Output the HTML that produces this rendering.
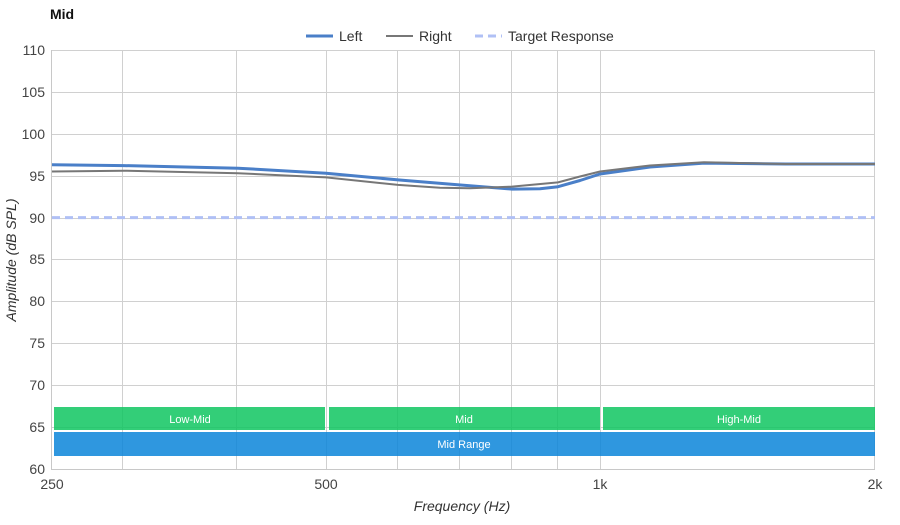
<!DOCTYPE html>
<html><head><style>
body{margin:0;background:#fff;font-family:"Liberation Sans",sans-serif;}
</style></head><body>
<svg width="900" height="520" xmlns="http://www.w3.org/2000/svg" font-family="Liberation Sans, sans-serif">
<rect width="900" height="520" fill="#fff"/>
<text x="50" y="19" font-size="14" font-weight="bold" fill="#111">Mid</text>
<!-- legend -->
<line x1="306" y1="36" x2="333" y2="36" stroke="#4a7fc8" stroke-width="3"/>
<text x="339" y="41" font-size="14" fill="#333">Left</text>
<line x1="386" y1="36" x2="413" y2="36" stroke="#777" stroke-width="2"/>
<text x="419" y="41" font-size="14" fill="#333">Right</text>
<line x1="475" y1="36" x2="502" y2="36" stroke="#b0c0f5" stroke-width="3" stroke-dasharray="8,5"/>
<text x="508" y="41" font-size="14" fill="#333">Target Response</text>
<!-- grid -->
<g stroke="#d0d0d0" stroke-width="1">
<line x1="52" y1="50.5" x2="875" y2="50.5"/><line x1="52" y1="92.5" x2="875" y2="92.5"/>
<line x1="52" y1="134.5" x2="875" y2="134.5"/><line x1="52" y1="176.5" x2="875" y2="176.5"/>
<line x1="52" y1="218.5" x2="875" y2="218.5"/><line x1="52" y1="259.5" x2="875" y2="259.5"/>
<line x1="52" y1="301.5" x2="875" y2="301.5"/><line x1="52" y1="343.5" x2="875" y2="343.5"/>
<line x1="52" y1="385.5" x2="875" y2="385.5"/><line x1="52" y1="427.5" x2="875" y2="427.5"/>
<line x1="122.5" y1="50" x2="122.5" y2="469"/><line x1="236.5" y1="50" x2="236.5" y2="469"/>
<line x1="326.5" y1="50" x2="326.5" y2="469"/><line x1="397.5" y1="50" x2="397.5" y2="469"/>
<line x1="459.5" y1="50" x2="459.5" y2="469"/><line x1="511.5" y1="50" x2="511.5" y2="469"/>
<line x1="557.5" y1="50" x2="557.5" y2="469"/><line x1="600.5" y1="50" x2="600.5" y2="469"/>
<line x1="874.5" y1="50" x2="874.5" y2="469"/>
</g>
<line x1="51.5" y1="50" x2="51.5" y2="469" stroke="#c8c8c8"/>
<line x1="51" y1="469.5" x2="875" y2="469.5" stroke="#c8c8c8"/>
<g font-size="14" fill="#444" text-anchor="end">
<text x="45" y="55">110</text><text x="45" y="97">105</text><text x="45" y="139">100</text>
<text x="45" y="181">95</text><text x="45" y="223">90</text><text x="45" y="264">85</text>
<text x="45" y="306">80</text><text x="45" y="348">75</text><text x="45" y="390">70</text>
<text x="45" y="432">65</text><text x="45" y="474">60</text>
</g>
<g font-size="14" fill="#444" text-anchor="middle">
<text x="52" y="489">250</text><text x="326" y="489">500</text><text x="600" y="489">1k</text><text x="875" y="489">2k</text>
</g>
<text x="462" y="511" font-size="14" font-style="italic" fill="#333" text-anchor="middle">Frequency (Hz)</text>
<text transform="translate(16,260) rotate(-90)" font-size="14" font-style="italic" fill="#333" text-anchor="middle">Amplitude (dB SPL)</text>
<!-- bands -->
<g fill-opacity="0.85">
<rect x="54" y="407" width="271" height="23" fill="#0fc660"/>
<rect x="329" y="407" width="271" height="23" fill="#0fc660"/>
<rect x="603" y="407" width="272" height="23" fill="#0fc660"/>
<rect x="54" y="432" width="821" height="24" fill="#0a85d9"/>
</g>
<g font-size="11" fill="#fff" text-anchor="middle">
<text x="190" y="423">Low-Mid</text><text x="464" y="423">Mid</text><text x="739" y="423">High-Mid</text>
<text x="464" y="448">Mid Range</text>
</g>
<!-- target -->
<line x1="52" y1="217.6" x2="875" y2="217.6" stroke="#b0c0f5" stroke-width="3" stroke-dasharray="8,5"/>
<!-- curves -->
<polyline fill="none" stroke="#4a7fc8" stroke-width="3" stroke-linejoin="round" points="52,164.8 124,165.6 238,168.2 326,173.2 398,179.9 459,184.9 512,189.1 540,188.8 558,186.7 580,180.5 600,174.0 650,167 704,163.1 786,164 875,164"/>
<polyline fill="none" stroke="#777" stroke-width="2" stroke-linejoin="round" points="52,171.5 124,170.7 238,173.2 326,177.4 398,184.9 440,187.8 470,188.3 512,186.6 558,182.4 580,176.5 600,171.5 650,165.5 704,162.3 786,164 875,164"/>
</svg>
</body></html>
